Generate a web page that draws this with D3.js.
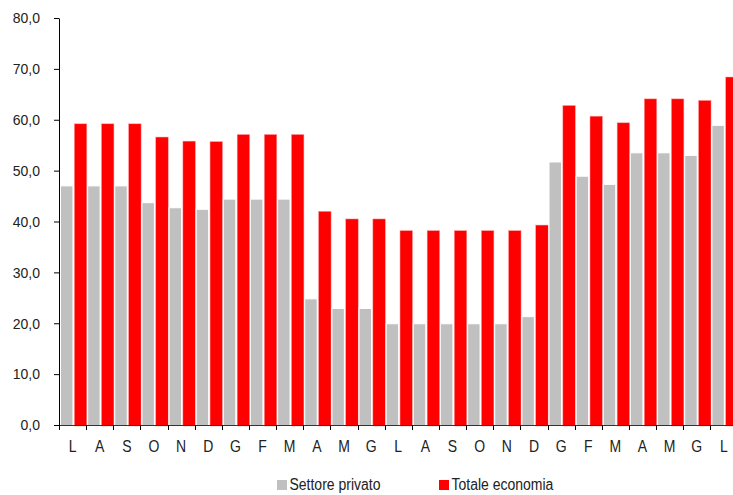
<!DOCTYPE html>
<html>
<head>
<meta charset="utf-8">
<script src="https://cdn.jsdelivr.net/npm/d3@7"></script>
<style>
  body { margin: 0; background: #fff; }
  svg { display: block; font-family: "Liberation Sans", Arial, sans-serif; }
</style>
</head>
<body>
<div id="chart"></div>
<script>
// months (jul -> jul, two years)
const months = ["L","A","S","O","N","D","G","F","M","A","M","G","L",
                "A","S","O","N","D","G","F","M","A","M","G","L"];
const seriesNames = ["Settore privato", "Totale economia"];
const privato = [47.0, 47.0, 47.0, 43.7, 42.7, 42.4, 44.4, 44.4, 44.4, 24.8, 22.9, 22.9, 19.9,
                 19.9, 19.9, 19.9, 19.9, 21.3, 51.7, 48.9, 47.3, 53.5, 53.5, 53.0, 58.9];
const totale  = [59.2, 59.2, 59.2, 56.6, 55.8, 55.7, 57.1, 57.1, 57.1, 42.0, 40.5, 40.5, 38.2,
                 38.2, 38.2, 38.2, 38.2, 39.3, 62.8, 60.7, 59.4, 64.1, 64.1, 63.8, 68.4];
const yTicks = [0, 10, 20, 30, 40, 50, 60, 70, 80];
const colors = { "Settore privato": "#c0c0c0", "Totale economia": "#ff0000" };

const width = 733, height = 495;
const margin = { top: 18, left: 59, bottom: 70 };
const plotBottom = height - margin.bottom; // 425

const svg = d3.select("#chart").append("svg")
  .attr("width", width)
  .attr("height", height);

const idx = d3.range(months.length);
const x = d3.scaleBand()
  .domain(idx)
  .range([margin.left, margin.left + 27.14 * months.length])
  .padding(0);

const x1 = d3.scaleBand()
  .domain(seriesNames)
  .range([1.5, 27.8])
  .paddingInner(0.1);

const y = d3.scaleLinear()
  .domain([0, 80])
  .range([plotBottom, margin.top]);

const rows = idx.map(i => ({ i, vals: [privato[i], totale[i]] }));

// bars
const groups = svg.append("g").selectAll("g")
  .data(rows)
  .join("g")
  .attr("transform", d => `translate(${x(d.i)},0)`);

groups.selectAll("rect")
  .data(d => seriesNames.map((s, k) => ({ s, v: d.vals[k] })))
  .join("rect")
  .attr("x", d => x1(d.s))
  .attr("y", d => y(d.v))
  .attr("width", x1.bandwidth())
  .attr("height", d => y(0) - y(d.v) + 1)
  .attr("fill", d => colors[d.s])
  .attr("stroke", d => d.s === "Settore privato" ? "#fff" : "#ff9a9a")
  .attr("stroke-width", d => d.s === "Settore privato" ? 1 : 0.5);

// y axis
const yAxis = svg.append("g")
  .attr("transform", `translate(${margin.left},0)`)
  .call(d3.axisLeft(y)
    .tickValues(yTicks)
    .tickFormat(d => d.toFixed(1).replace(".", ","))
    .tickSize(5)
    .tickSizeOuter(0)
    .tickPadding(14));
yAxis.select(".domain").attr("stroke", "#000");
yAxis.selectAll(".tick line").attr("stroke", "#000");
yAxis.selectAll("text")
  .attr("font-size", 14)
  .attr("fill", "#222")
  .attr("font-family", "'Liberation Sans', Arial, sans-serif")
  .attr("transform", "scale(1,1.08)");

// x axis: line, boundary ticks, labels
const xAxis = svg.append("g");
xAxis.append("line")
  .attr("x1", margin.left)
  .attr("x2", width)
  .attr("y1", plotBottom + 0.5)
  .attr("y2", plotBottom + 0.5)
  .attr("stroke", "#333")
  .attr("stroke-width", 1.2);

xAxis.selectAll("line.tk")
  .data(idx)
  .join("line")
  .attr("class", "tk")
  .attr("x1", d => Math.round(x(d)) + 0.5)
  .attr("x2", d => Math.round(x(d)) + 0.5)
  .attr("y1", plotBottom)
  .attr("y2", plotBottom + 5)
  .attr("stroke", "#000");

xAxis.selectAll("text")
  .data(idx)
  .join("text")
  .attr("transform", d => `translate(${x(d) + x.bandwidth() / 2},${plotBottom + 27}) scale(1,1.15)`)
  .attr("text-anchor", "middle")
  .attr("font-size", 14)
  .attr("fill", "#222")
  .text(d => months[d]);

// legend
const legendX = [277, 439];
const legend = svg.append("g").selectAll("g")
  .data(seriesNames)
  .join("g")
  .attr("transform", (d, k) => `translate(${legendX[k]},480)`);
legend.append("rect")
  .attr("width", 10)
  .attr("height", 10)
  .attr("fill", d => colors[d]);
legend.append("text")
  .attr("transform", "translate(12.5,10) scale(1,1.17)")
  .attr("font-size", 14)
  .attr("fill", "#222")
  .text(d => d);
</script>
</body>
</html>
